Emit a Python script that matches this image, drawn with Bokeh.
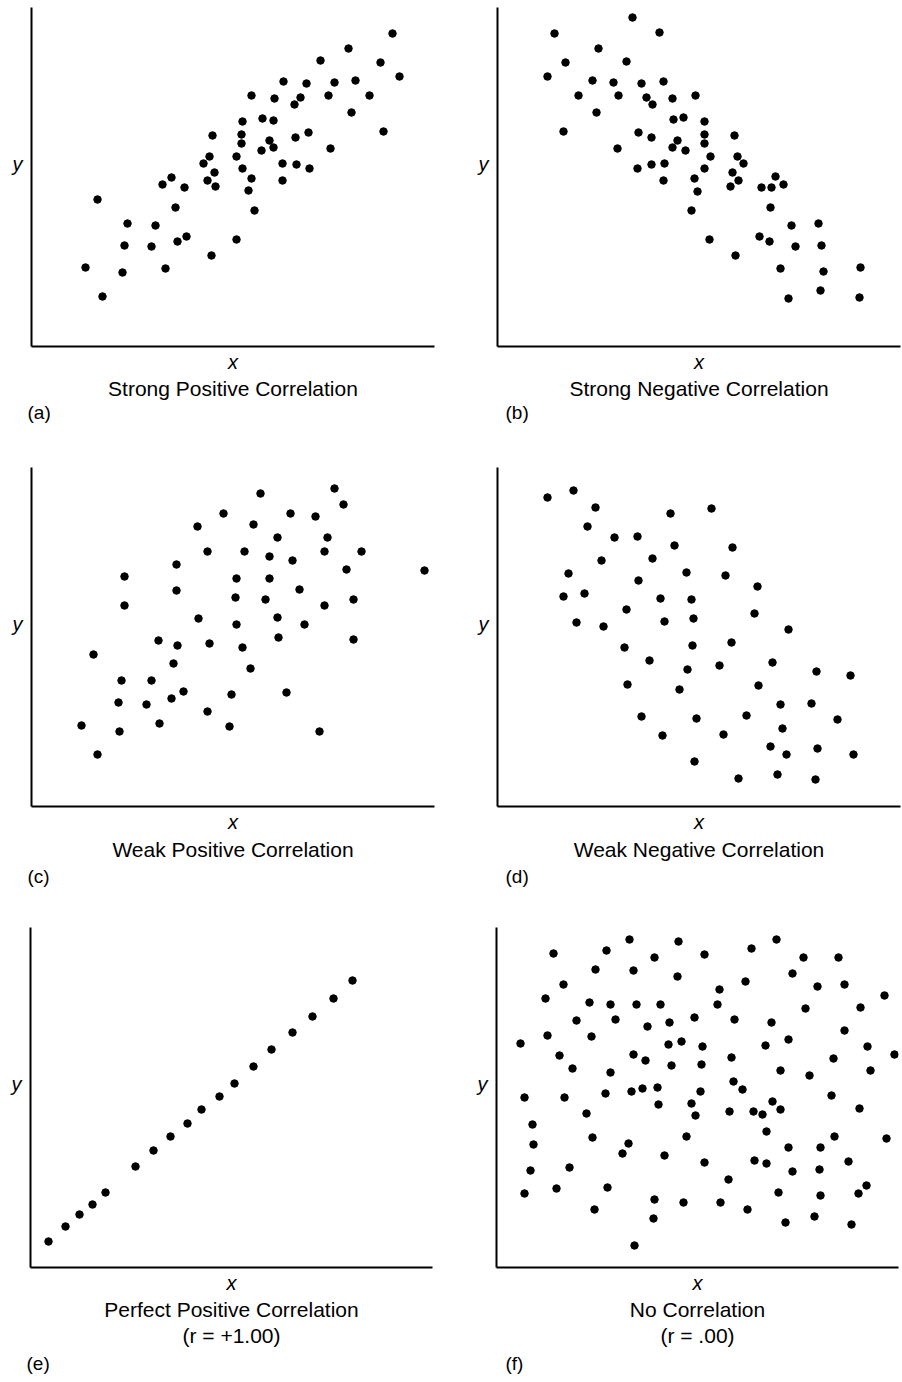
from bokeh.plotting import figure
from bokeh.models import Range1d, Title, FixedTicker
from bokeh.layouts import column, row
from bokeh.embed import file_html
from bokeh.resources import INLINE

FONT = "Liberation Sans"

# ---- data (units = position along each panel's axes) ----
a_x = [361, 317, 289, 349, 368, 252, 275, 303, 324, 220, 243, 269, 263, 297, 338,
       320, 231, 242, 211, 352, 181, 210, 277, 264, 210, 238, 242, 230, 299, 178,
       205, 172, 251, 265, 211, 278, 183, 140, 131, 176, 184, 220, 251, 153, 217,
       66, 144, 223, 96, 124, 93, 120, 146, 155, 205, 180, 54, 91, 134, 71]
a_y = [313, 298, 286, 284, 270, 265, 263, 264, 266, 251, 248, 249, 242, 251, 251,
       234, 228, 226, 225, 215, 211, 212, 214, 209, 203, 206, 199, 196, 198, 190,
       190, 183, 183, 182, 178, 178, 174, 169, 162, 166, 160, 168, 166, 159, 156,
       147, 139, 136, 123, 121, 101, 100, 105, 110, 107, 91, 79, 74, 78, 50]

b_x = [135, 57, 162, 101, 68, 129, 50, 95, 116, 144, 166, 81, 121, 149, 155, 175,
       198, 99, 176, 186, 207, 66, 141, 154, 207, 237, 180, 175, 188, 207, 120, 213,
       240, 246, 140, 154, 167, 207, 235, 166, 197, 241, 233, 200, 278, 264, 274, 286,
       273, 194, 294, 321, 212, 262, 272, 298, 324, 238, 283, 326, 363, 323, 291, 362]
b_y = [329, 313, 314, 298, 284, 285, 270, 266, 264, 263, 265, 251, 251, 249, 242, 248,
       251, 234, 227, 229, 225, 215, 214, 209, 212, 211, 206, 199, 196, 203, 198, 190,
       190, 183, 178, 182, 183, 178, 174, 166, 168, 166, 160, 155, 170, 159, 159, 162,
       139, 136, 121, 123, 107, 110, 105, 100, 101, 91, 78, 75, 79, 56, 48, 49]

c_x = [303, 229, 312, 192, 259, 284, 166, 222, 246, 296, 176, 213, 293, 330, 238,
       261, 145, 315, 393, 93, 205, 238, 145, 268, 204, 234, 93, 293, 322, 167,
       205, 246, 273, 127, 146, 178, 211, 247, 322, 62, 142, 219, 90, 120, 152,
       87, 115, 140, 200, 255, 176, 50, 88, 128, 198, 288, 66]
c_y = [318, 313, 302, 293, 293, 290, 280, 282, 269, 269, 255, 255, 255, 255, 250,
       246, 242, 237, 236, 230, 228, 228, 216, 217, 209, 207, 201, 201, 207, 188,
       182, 189, 182, 166, 161, 163, 159, 169, 167, 152, 143, 138, 126, 126, 115,
       104, 102, 108, 112, 114, 95, 81, 75, 83, 80, 75, 52]

d_x = [50, 76, 98, 173, 214, 90, 117, 140, 177, 235, 104, 155, 71, 189, 228,
       141, 260, 66, 87, 163, 194, 129, 257, 79, 106, 167, 196, 291, 127, 195,
       234, 152, 190, 222, 275, 319, 353, 130, 182, 261, 283, 314, 144, 199, 249,
       340, 285, 165, 226, 273, 289, 320, 356, 197, 241, 280, 318]
d_y = [309, 316, 299, 293, 298, 280, 269, 270, 261, 259, 246, 248, 233, 234, 231,
       226, 220, 210, 213, 208, 207, 197, 193, 184, 180, 185, 188, 177, 159, 161,
       164, 146, 137, 141, 144, 135, 131, 122, 117, 121, 102, 103, 90, 88, 91,
       87, 78, 71, 72, 60, 52, 58, 52, 45, 28, 32, 27]

e_x = [18, 35, 49, 62, 75, 105, 123, 140, 157, 171, 189, 204, 223, 241, 262, 282, 303, 322]
e_y = [26, 41, 53, 63, 75, 101, 117, 131, 144, 158, 171, 184, 201, 218, 235, 251, 269, 287]

f_x = [133, 182, 280, 57, 110, 158, 208, 255, 307, 342,
       99, 137, 181, 296, 67, 249, 321, 348, 223, 49,
       388, 93, 114, 140, 164, 221, 309, 364, 80, 119,
       173, 198, 238, 275, 151, 348, 51, 95, 292, 24,
       172, 185, 206, 269, 371, 398, 63, 137, 149, 175,
       205, 235, 337, 76, 114, 284, 313, 374, 237, 246,
       135, 146, 161, 204, 109, 28, 68, 335, 162, 195,
       276, 90, 199, 233, 257, 266, 284, 363, 36, 270,
       96, 190, 338, 390, 37, 132, 292, 324, 126, 168,
       208, 258, 270, 352, 34, 73, 296, 323, 232, 28,
       60, 111, 282, 324, 362, 370, 158, 187, 224, 98,
       251, 157, 289, 318, 355, 138]
f_y = [328, 326, 328, 314, 317, 310, 313, 319, 310, 310,
       298, 297, 291, 294, 283, 286, 281, 283, 278, 269,
       272, 265, 263, 263, 263, 263, 259, 260, 247, 248,
       245, 250, 248, 245, 241, 237, 232, 231, 228, 224,
       223, 226, 221, 222, 221, 213, 212, 213, 207, 202,
       203, 210, 209, 199, 195, 197, 192, 197, 186, 178,
       176, 179, 180, 176, 174, 170, 170, 172, 163, 164,
       166, 154, 152, 156, 156, 153, 158, 159, 143, 136,
       130, 131, 131, 129, 123, 124, 120, 120, 114, 112,
       105, 107, 104, 106, 97, 100, 96, 98, 88, 74,
       79, 80, 75, 72, 74, 82, 68, 65, 65, 58,
       58, 49, 45, 51, 43, 22]

titles = ["Strong Positive Correlation", "Strong Negative Correlation",
          "Weak Positive Correlation", "Weak Negative Correlation",
          "Perfect Positive Correlation", "No Correlation"]
subtitles = [None, None, None, None, "(r = +1.00)", "(r = .00)"]
tags = ["(a)", "(b)", "(c)", "(d)", "(e)", "(f)"]


def make_panel(xs, ys, fw, fh, left, right, top, bottom, title, sub, tag, tag_off,
               gaps):
    p = figure(frame_width=fw, frame_height=fh,
               x_range=Range1d(0, fw), y_range=Range1d(0, fh),
               min_border_left=left, min_border_right=right,
               min_border_top=top, min_border_bottom=bottom,
               output_backend="svg", toolbar_location=None, tools="")
    p.outline_line_color = None
    p.grid.visible = False
    p.background_fill_color = "white"
    p.border_fill_color = "white"
    p.scatter(xs, ys, size=7.5, color="black")
    for ax in (p.xaxis[0], p.yaxis[0]):
        ax.ticker = FixedTicker(ticks=[])
        ax.major_tick_line_color = None
        ax.minor_tick_line_color = None
        ax.major_tick_out = 0
        ax.major_tick_in = 0
        ax.major_label_text_font_size = "0px"
        ax.major_label_standoff = 0
        ax.axis_line_color = "black"
        ax.axis_line_width = 2

    yax = p.yaxis[0]
    yax.axis_label = "y\n "
    yax.axis_label_orientation = "horizontal"
    yax.axis_label_text_font = FONT
    yax.axis_label_text_font_style = "italic"
    yax.axis_label_text_font_size = "20px"
    yax.axis_label_text_color = "black"
    yax.axis_label_standoff = 9

    g_x, g_t, g_s, g_tag = gaps
    p.add_layout(Title(text="x", text_font=FONT, text_font_style="italic",
                       text_font_size="20px", text_color="black",
                       align="center", standoff=g_x), "below")
    p.add_layout(Title(text=title, text_font=FONT, text_font_style="normal",
                       text_font_size="21px", text_color="black",
                       align="center", standoff=g_t), "below")
    if sub:
        p.add_layout(Title(text=sub, text_font=FONT, text_font_style="normal",
                           text_font_size="21px", text_color="black",
                           align="center", standoff=g_s), "below")
    p.add_layout(Title(text=tag, text_font=FONT, text_font_style="normal",
                       text_font_size="19px", text_color="black",
                       align="left", offset=tag_off, standoff=g_tag), "below")
    return p


pa = make_panel(a_x, a_y, 403, 339, 31, 17, 7, 114, titles[0], subtitles[0], tags[0], -4, (4, 0, 0, 0))
pb = make_panel(b_x, b_y, 403, 339, 46, 2, 7, 114, titles[1], subtitles[1], tags[1], 8, (4, 0, 0, 0))
pc = make_panel(c_x, c_y, 403, 339, 31, 17, 7, 109, titles[2], subtitles[2], tags[2], -4, (4, 2, 0, 5))
pd = make_panel(d_x, d_y, 403, 339, 46, 2, 7, 109, titles[3], subtitles[3], tags[3], 8, (4, 2, 0, 5))
pe = make_panel(e_x, e_y, 402, 340, 30, 19, 10, 117, titles[4], subtitles[4], tags[4], -4, (4, 1, 0, 9))
pf = make_panel(f_x, f_y, 402, 340, 45, 4, 12, 115, titles[5], subtitles[5], tags[5], 9, (4, 1, 0, 9))

layout = column(row(pa, pb), row(pc, pd), row(pe, pf))

open("out.html", "w").write(file_html(layout, INLINE))
